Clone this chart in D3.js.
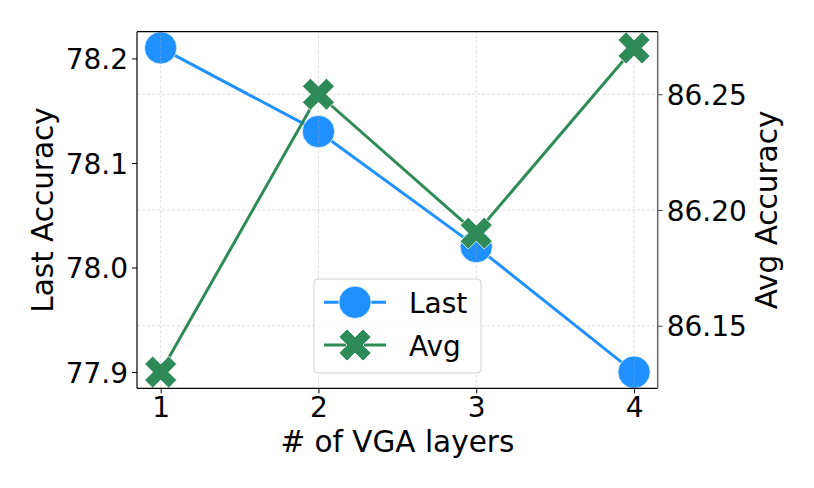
<!DOCTYPE html>
<html>
<head>
<meta charset="utf-8">
<script src="https://cdn.jsdelivr.net/npm/d3@7"></script>
<style>
  body { margin: 0; background: #fff; }
  svg { display: block; font-family: "DejaVu Sans", sans-serif; }
</style>
</head>
<body>
<svg id="chart" width="814" height="488"></svg>
<script>
// ---- data ----
const layers = [1, 2, 3, 4];
const lastAcc = [78.21, 78.13, 78.02, 77.90];
const avgAcc = [86.13, 86.25, 86.19, 86.27];
const xTicks = [1, 2, 3, 4];
const leftTicks = [77.9, 78.0, 78.1, 78.2];
const rightTicks = [86.15, 86.20, 86.25];
const seriesNames = ["Last", "Avg"];

// ---- layout ----
const W = 814, H = 488;
const M = { left: 137, right: 156.3, top: 31.7, bottom: 99.7 };
const x0 = M.left, x1 = W - M.right, y0 = H - M.bottom, y1 = M.top;
const BLUE = "#1E90FF", GREEN = "#2E8B57";
const FS = 28, FT = 29.5;

function padded(vals, frac) {
  const [a, b] = d3.extent(vals);
  const p = (b - a) * frac;
  return [a - p, b + p];
}

const x = d3.scaleLinear().domain(padded(layers, 0.05)).range([x0, x1]);
const yL = d3.scaleLinear().domain(padded(lastAcc, 0.05)).range([y0, y1]);
const yR = d3.scaleLinear().domain(padded(avgAcc, 0.05)).range([y0, y1]);

const svg = d3.select("#chart");

// ---- Last series (primary axis) ----
const lineL = d3.line().x((d, i) => x(layers[i])).y(d => yL(d));
svg.append("path").datum(lastAcc)
  .attr("d", lineL).attr("fill", "none")
  .attr("stroke", BLUE).attr("stroke-width", 3);

const R = 16.2;
svg.append("g").selectAll("circle").data(lastAcc).join("circle")
  .attr("cx", (d, i) => x(layers[i])).attr("cy", d => yL(d))
  .attr("r", R).attr("fill", BLUE)
  .attr("stroke", "#fff").attr("stroke-width", 0.8);

// ---- grid (secondary axis) ----
const grid = svg.append("g").attr("stroke", "#b0b0b0").attr("stroke-opacity", 0.5)
  .attr("stroke-width", 0.8).attr("stroke-dasharray", "3,2");
grid.selectAll("line.gy").data(rightTicks).join("line").attr("class", "gy")
  .attr("x1", x0).attr("x2", x1).attr("y1", d => yR(d)).attr("y2", d => yR(d));
grid.selectAll("line.gx").data(xTicks).join("line").attr("class", "gx")
  .attr("y1", y0).attr("y2", y1).attr("x1", d => x(d)).attr("x2", d => x(d));

// ---- Avg series (secondary axis) ----
const lineR = d3.line().x((d, i) => x(layers[i])).y(d => yR(d));
svg.append("path").datum(avgAcc)
  .attr("d", lineR).attr("fill", "none")
  .attr("stroke", GREEN).attr("stroke-width", 3);

// filled "X" marker: a thick plus sign rotated by 45 degrees
const plusShape = [[-1,-3],[1,-3],[1,-1],[3,-1],[3,1],[1,1],[1,3],[-1,3],[-1,1],[-3,1],[-3,-1],[-1,-1]];
function xPath(size) {
  const c = Math.SQRT1_2;
  return "M" + plusShape.map(p => {
    const px = p[0] / 6 * size, py = p[1] / 6 * size;
    return ((px - py) * c).toFixed(2) + "," + ((px + py) * c).toFixed(2);
  }).join("L") + "Z";
}
const XS = 34;
svg.append("g").selectAll("path").data(avgAcc).join("path")
  .attr("transform", (d, i) => `translate(${x(layers[i])},${yR(d)})`)
  .attr("d", xPath(XS)).attr("fill", GREEN)
  .attr("stroke", "#fff").attr("stroke-width", 0.8);

// ---- axes ----
function styleAxis(g, color) {
  g.select(".domain").remove();
  g.selectAll(".tick line").attr("stroke", color).attr("stroke-width", 1);
  g.selectAll(".tick text").attr("fill", "#000").attr("font-size", FS)
    .attr("font-family", "DejaVu Sans, sans-serif");
}
const gL = svg.append("g").attr("transform", `translate(${x0},0)`)
  .call(d3.axisLeft(yL).tickValues(leftTicks).tickFormat(d3.format(".1f")).tickSize(5).tickPadding(4));
styleAxis(gL, "#000");
gL.selectAll(".tick text").attr("dy", "0.36em");

const gR = svg.append("g").attr("transform", `translate(${x1},0)`)
  .call(d3.axisRight(yR).tickValues(rightTicks).tickFormat(d3.format(".2f")).tickSize(5).tickPadding(4));
styleAxis(gR, "#444");
gR.selectAll(".tick text").attr("dy", "0.36em");

const gB = svg.append("g").attr("transform", `translate(0,${y0})`)
  .call(d3.axisBottom(x).tickValues(xTicks).tickFormat(d3.format("d")).tickSize(5).tickPadding(4));
styleAxis(gB, "#000");

// spines
svg.append("line").attr("x1", x0).attr("x2", x0).attr("y1", y0).attr("y2", y1).attr("stroke", "#000").attr("stroke-width", 1.2);
svg.append("line").attr("x1", x0).attr("x2", x1).attr("y1", y0).attr("y2", y0).attr("stroke", "#000").attr("stroke-width", 1.2);
svg.append("line").attr("x1", x0).attr("x2", x1).attr("y1", y1).attr("y2", y1).attr("stroke", "#000").attr("stroke-width", 1.2);
svg.append("line").attr("x1", x1).attr("x2", x1).attr("y1", y0).attr("y2", y1).attr("stroke", "#666").attr("stroke-width", 1.5);

// ---- axis titles ----
svg.append("text").attr("transform", `translate(53,${(y0 + y1) / 2}) rotate(-90)`)
  .attr("text-anchor", "middle").attr("font-size", FT).text("Last Accuracy");
svg.append("text").attr("transform", `translate(777,${(y0 + y1) / 2}) rotate(-90)`)
  .attr("text-anchor", "middle").attr("font-size", FT).text("Avg Accuracy");
svg.append("text").attr("x", (x0 + x1) / 2).attr("y", 452)
  .attr("text-anchor", "middle").attr("font-size", FT).text("# of VGA layers");

// ---- legend ----
const lg = svg.append("g");
lg.append("rect").attr("x", 314).attr("y", 279).attr("width", 167).attr("height", 94)
  .attr("rx", 4).attr("fill", "#fff").attr("fill-opacity", 0.85)
  .attr("stroke", "#d0d0d0").attr("stroke-width", 1);
const rows = [302.3, 345];
const colors = [BLUE, GREEN];
seriesNames.forEach((name, i) => {
  const yy = rows[i];
  lg.append("line").attr("x1", 324).attr("x2", 386).attr("y1", yy).attr("y2", yy)
    .attr("stroke", colors[i]).attr("stroke-width", 3);
  if (i === 0) {
    lg.append("circle").attr("cx", 355).attr("cy", yy).attr("r", R).attr("fill", BLUE)
      .attr("stroke", "#fff").attr("stroke-width", 0.8);
  } else {
    lg.append("path").attr("transform", `translate(355,${yy})`).attr("d", xPath(XS))
      .attr("fill", GREEN).attr("stroke", "#fff").attr("stroke-width", 0.8);
  }
  lg.append("text").attr("x", 409).attr("y", yy + 10.5).attr("font-size", FS).text(name);
});
</script>
</body>
</html>
